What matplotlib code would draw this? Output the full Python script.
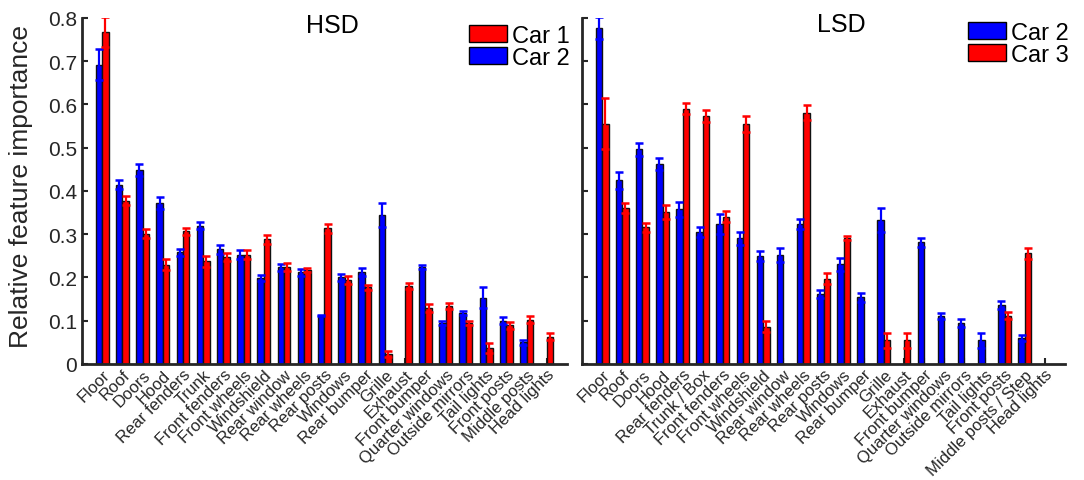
import numpy as np
import matplotlib
matplotlib.use('Agg')
import matplotlib.pyplot as plt
from matplotlib.patches import Patch

plt.rcParams['font.family'] = ['Liberation Sans', 'DejaVu Sans']

# HSD panel: Car 2 (blue, left) and Car 1 (red, right)
hsd_labels = ['Floor', 'Roof', 'Doors', 'Hood', 'Rear fenders', 'Trunk', 'Front fenders',
              'Front wheels', 'Windshield', 'Rear window', 'Rear wheels', 'Rear posts',
              'Windows', 'Rear bumper', 'Grille', 'Exhaust', 'Front bumper',
              'Quarter windows', 'Outside mirrors', 'Tail lights', 'Front posts',
              'Middle posts', 'Head lights']
hsd_car2 = [0.692, 0.415, 0.449, 0.372, 0.258, 0.320, 0.265, 0.253, 0.199, 0.224, 0.212,
            0.112, 0.200, 0.212, 0.345, np.nan, 0.225, 0.095, 0.118, 0.153, 0.100, 0.050,
            np.nan]
hsd_car2_err = [0.036, 0.010, 0.014, 0.013, 0.009, 0.009, 0.011, 0.011, 0.007, 0.008,
                0.008, 0.002, 0.008, 0.009, 0.028, np.nan, 0.005, 0.005, 0.005, 0.024,
                0.008, 0.006, np.nan]
hsd_car1 = [0.768, 0.378, 0.301, 0.230, 0.307, 0.237, 0.248, 0.253, 0.288, 0.224, 0.218,
            0.314, 0.194, 0.177, 0.023, 0.181, 0.129, 0.133, 0.095, 0.037, 0.089, 0.102,
            0.063]
hsd_car1_err = [0.035, 0.011, 0.010, 0.013, 0.008, 0.012, 0.009, 0.011, 0.011, 0.010,
                0.005, 0.010, 0.010, 0.006, 0.008, 0.007, 0.009, 0.007, 0.005, 0.011,
                0.007, 0.008, 0.008]

# LSD panel: Car 2 (blue, left) and Car 3 (red, right)
lsd_labels = ['Floor', 'Roof', 'Doors', 'Hood', 'Rear fenders', 'Trunk / Box',
              'Front fenders', 'Front wheels', 'Windshield', 'Rear window', 'Rear wheels',
              'Rear posts', 'Windows', 'Rear bumper', 'Grille', 'Exhaust', 'Front bumper',
              'Quarter windows', 'Outside mirrors', 'Tail lights', 'Front posts',
              'Middle posts / Step', 'Head lights']
lsd_car2 = [0.777, 0.425, 0.496, 0.462, 0.358, 0.305, 0.324, 0.291, 0.249, 0.252, 0.324,
            0.162, 0.231, 0.154, 0.333, np.nan, 0.281, 0.112, 0.095, 0.055, 0.136, 0.060,
            np.nan]
lsd_car2_err = [0.026, 0.020, 0.015, 0.014, 0.017, 0.012, 0.023, 0.015, 0.012, 0.017,
                0.011, 0.010, 0.015, 0.010, 0.028, np.nan, 0.011, 0.007, 0.009, 0.017,
                0.010, 0.007, np.nan]
lsd_car3 = [0.555, 0.361, 0.316, 0.352, 0.590, 0.574, 0.341, 0.555, 0.086, np.nan, 0.581,
            0.197, 0.291, np.nan, 0.055, 0.055, np.nan, np.nan, np.nan, np.nan, 0.112,
            0.256, np.nan]
lsd_car3_err = [0.059, 0.012, 0.011, 0.016, 0.013, 0.014, 0.013, 0.018, 0.013, np.nan,
                0.018, 0.013, 0.005, np.nan, 0.017, 0.017, np.nan, np.nan, np.nan, np.nan,
                0.009, 0.013, np.nan]

BLUE = (0, 0, 1)
RED = (1, 0, 0)
AXC = '#262626'
W = 0.32


def draw_panel(ax, labels, left, left_err, right, right_err, left_color, right_color):
    x = np.arange(1, len(labels) + 1)
    for vals, errs, off, col in ((left, left_err, -W / 2, left_color),
                                 (right, right_err, W / 2, right_color)):
        vals = np.array(vals, dtype=float)
        errs = np.array(errs, dtype=float)
        ok = ~np.isnan(vals)
        ax.bar(x[ok] + off, vals[ok], W, color=col, edgecolor='#111111',
               linewidth=1.0, zorder=2)
        ax.errorbar(x[ok] + off, vals[ok], yerr=errs[ok], fmt='none', ecolor=col,
                    elinewidth=1.6, capsize=3.2, capthick=1.8, zorder=3)
    ax.set_xlim(0, len(labels) + 1)
    ax.set_ylim(0, 0.8)
    ax.set_xticks(x)
    ax.set_xticklabels(labels, rotation=45, ha='right', va='top',
                       rotation_mode='anchor', color=AXC)
    ax.set_yticks(np.arange(0, 0.81, 0.1))
    for side in ('top', 'right'):
        ax.spines[side].set_visible(False)
    for side in ('left', 'bottom'):
        ax.spines[side].set_linewidth(2.0)
        ax.spines[side].set_color(AXC)
    ax.tick_params(direction='in', length=4, width=1.5, color=AXC, labelcolor=AXC)
    ax.tick_params(axis='y', labelsize=15)
    ax.tick_params(axis='x', labelsize=12, pad=2)


fig = plt.figure(figsize=(10.84, 4.81), dpi=100)
ax1 = fig.add_axes([0.0756, 0.2412, 0.4474, 0.7193])
ax2 = fig.add_axes([0.5369, 0.2412, 0.4456, 0.7193])

draw_panel(ax1, hsd_labels, hsd_car2, hsd_car2_err, hsd_car1, hsd_car1_err, BLUE, RED)
draw_panel(ax2, lsd_labels, lsd_car2, lsd_car2_err, lsd_car3, lsd_car3_err, BLUE, RED)

ax1.set_ylabel('Relative feature importance', fontsize=19, color=AXC)
ax1.yaxis.set_label_coords(-0.1, 0.515)
ax1.set_yticklabels(['0', '0.1', '0.2', '0.3', '0.4', '0.5', '0.6', '0.7', '0.8'])
ax2.set_yticklabels([])

ax1.text(12.4, 0.783, 'HSD', fontsize=18, ha='center', va='center')
ax2.text(12.9, 0.786, 'LSD', fontsize=18, ha='center', va='center')

leg_kw = dict(frameon=False, fontsize=17, handlelength=1.62, handleheight=0.7,
              handletextpad=0.2, labelspacing=0.0, borderpad=0, borderaxespad=0,
              loc='upper left')
fig.legend(handles=[Patch(facecolor=RED, edgecolor='k', label='Car 1'),
                    Patch(facecolor=BLUE, edgecolor='k', label='Car 2')],
           bbox_to_anchor=(469 / 1084, 1 - 26 / 481), **leg_kw)
fig.legend(handles=[Patch(facecolor=BLUE, edgecolor='k', label='Car 2'),
                    Patch(facecolor=RED, edgecolor='k', label='Car 3')],
           bbox_to_anchor=(968 / 1084, 1 - 23 / 481), **leg_kw)

fig.savefig('out.png', dpi=100)
